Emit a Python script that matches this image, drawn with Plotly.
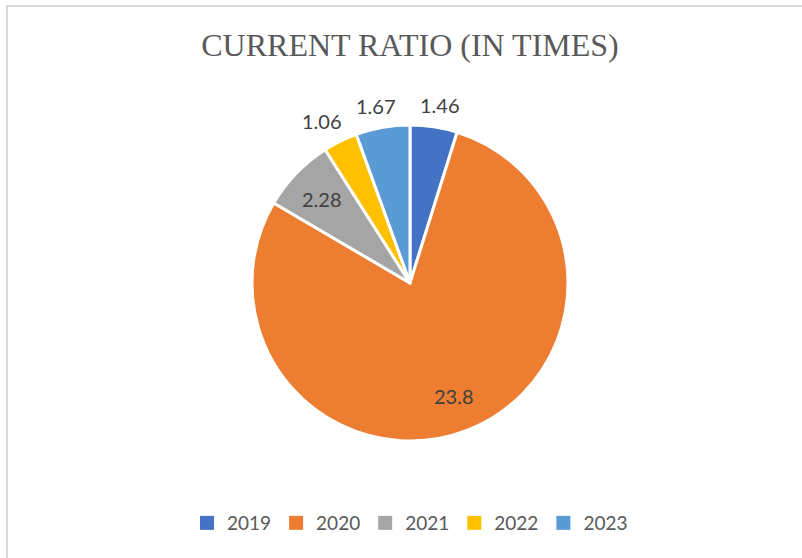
import math
import plotly.graph_objects as go

years = ["2019", "2020", "2021", "2022", "2023"]
ratios = [1.46, 23.8, 2.28, 1.06, 1.67]
colors = ["#4472C4", "#ED7D31", "#A5A5A5", "#FFC000", "#5B9BD5"]
label_inside = [False, True, True, False, False]
title_text = "CURRENT RATIO (IN TIMES)"

W, H = 802, 558
cx, cy, R = 410, 283, 158

fig = go.Figure(go.Pie(
    labels=years,
    values=ratios,
    textinfo="none",
    sort=False,
    direction="clockwise",
    rotation=0,
    showlegend=False,
    marker=dict(colors=colors, line=dict(color="white", width=3)),
    domain=dict(x=[(cx - R) / W, (cx + R) / W], y=[(H - cy - R) / H, (H - cy + R) / H]),
    hoverinfo="label+value",
))

# legend entries with larger square swatches
for yr, col in zip(years, colors):
    fig.add_trace(go.Scatter(
        x=[None], y=[None], mode="markers", name=yr,
        marker=dict(symbol="square", size=14, color=col), showlegend=True,
    ))

# data labels placed from the slice angles computed from the values
total = sum(ratios)
cum = 0.0
annotations = []
for v, inside in zip(ratios, label_inside):
    theta = 2 * math.pi * (cum + v / 2) / total
    cum += v
    r = 0.77 * R if inside else R + 22
    px = cx + r * math.sin(theta) + (0 if inside else 20 * math.sin(theta))
    py = cy - r * math.cos(theta)
    annotations.append(dict(
        text=f"{v:g}", x=px / W, y=(H - py) / H, xref="paper", yref="paper",
        xanchor="center", yanchor="middle", showarrow=False,
        font=dict(family="Lato", size=20, color="#404040"),
    ))

fig.update_layout(
    width=W, height=H,
    margin=dict(l=0, r=0, t=0, b=0),
    paper_bgcolor="white",
    plot_bgcolor="white",
    xaxis=dict(visible=False),
    yaxis=dict(visible=False),
    title=dict(text=title_text, x=cx / W, xanchor="center", y=(H - 45) / H, yanchor="middle",
               font=dict(family="Liberation Serif", size=32, color="#595959")),
    legend=dict(orientation="h", x=cx / W, xanchor="center", y=(H - 523) / H, yanchor="middle",
                font=dict(family="Lato", size=19, color="#595959"), traceorder="normal",
                itemwidth=30),
    annotations=annotations,
    shapes=[
        dict(type="line", xref="paper", yref="paper", x0=6 / W, x1=1, y0=(H - 6) / H, y1=(H - 6) / H,
             line=dict(color="#D9D9D9", width=2)),
        dict(type="line", xref="paper", yref="paper", x0=7 / W, x1=7 / W, y0=0, y1=(H - 5) / H,
             line=dict(color="#D9D9D9", width=2)),
    ],
)

fig.write_html("out.html")
